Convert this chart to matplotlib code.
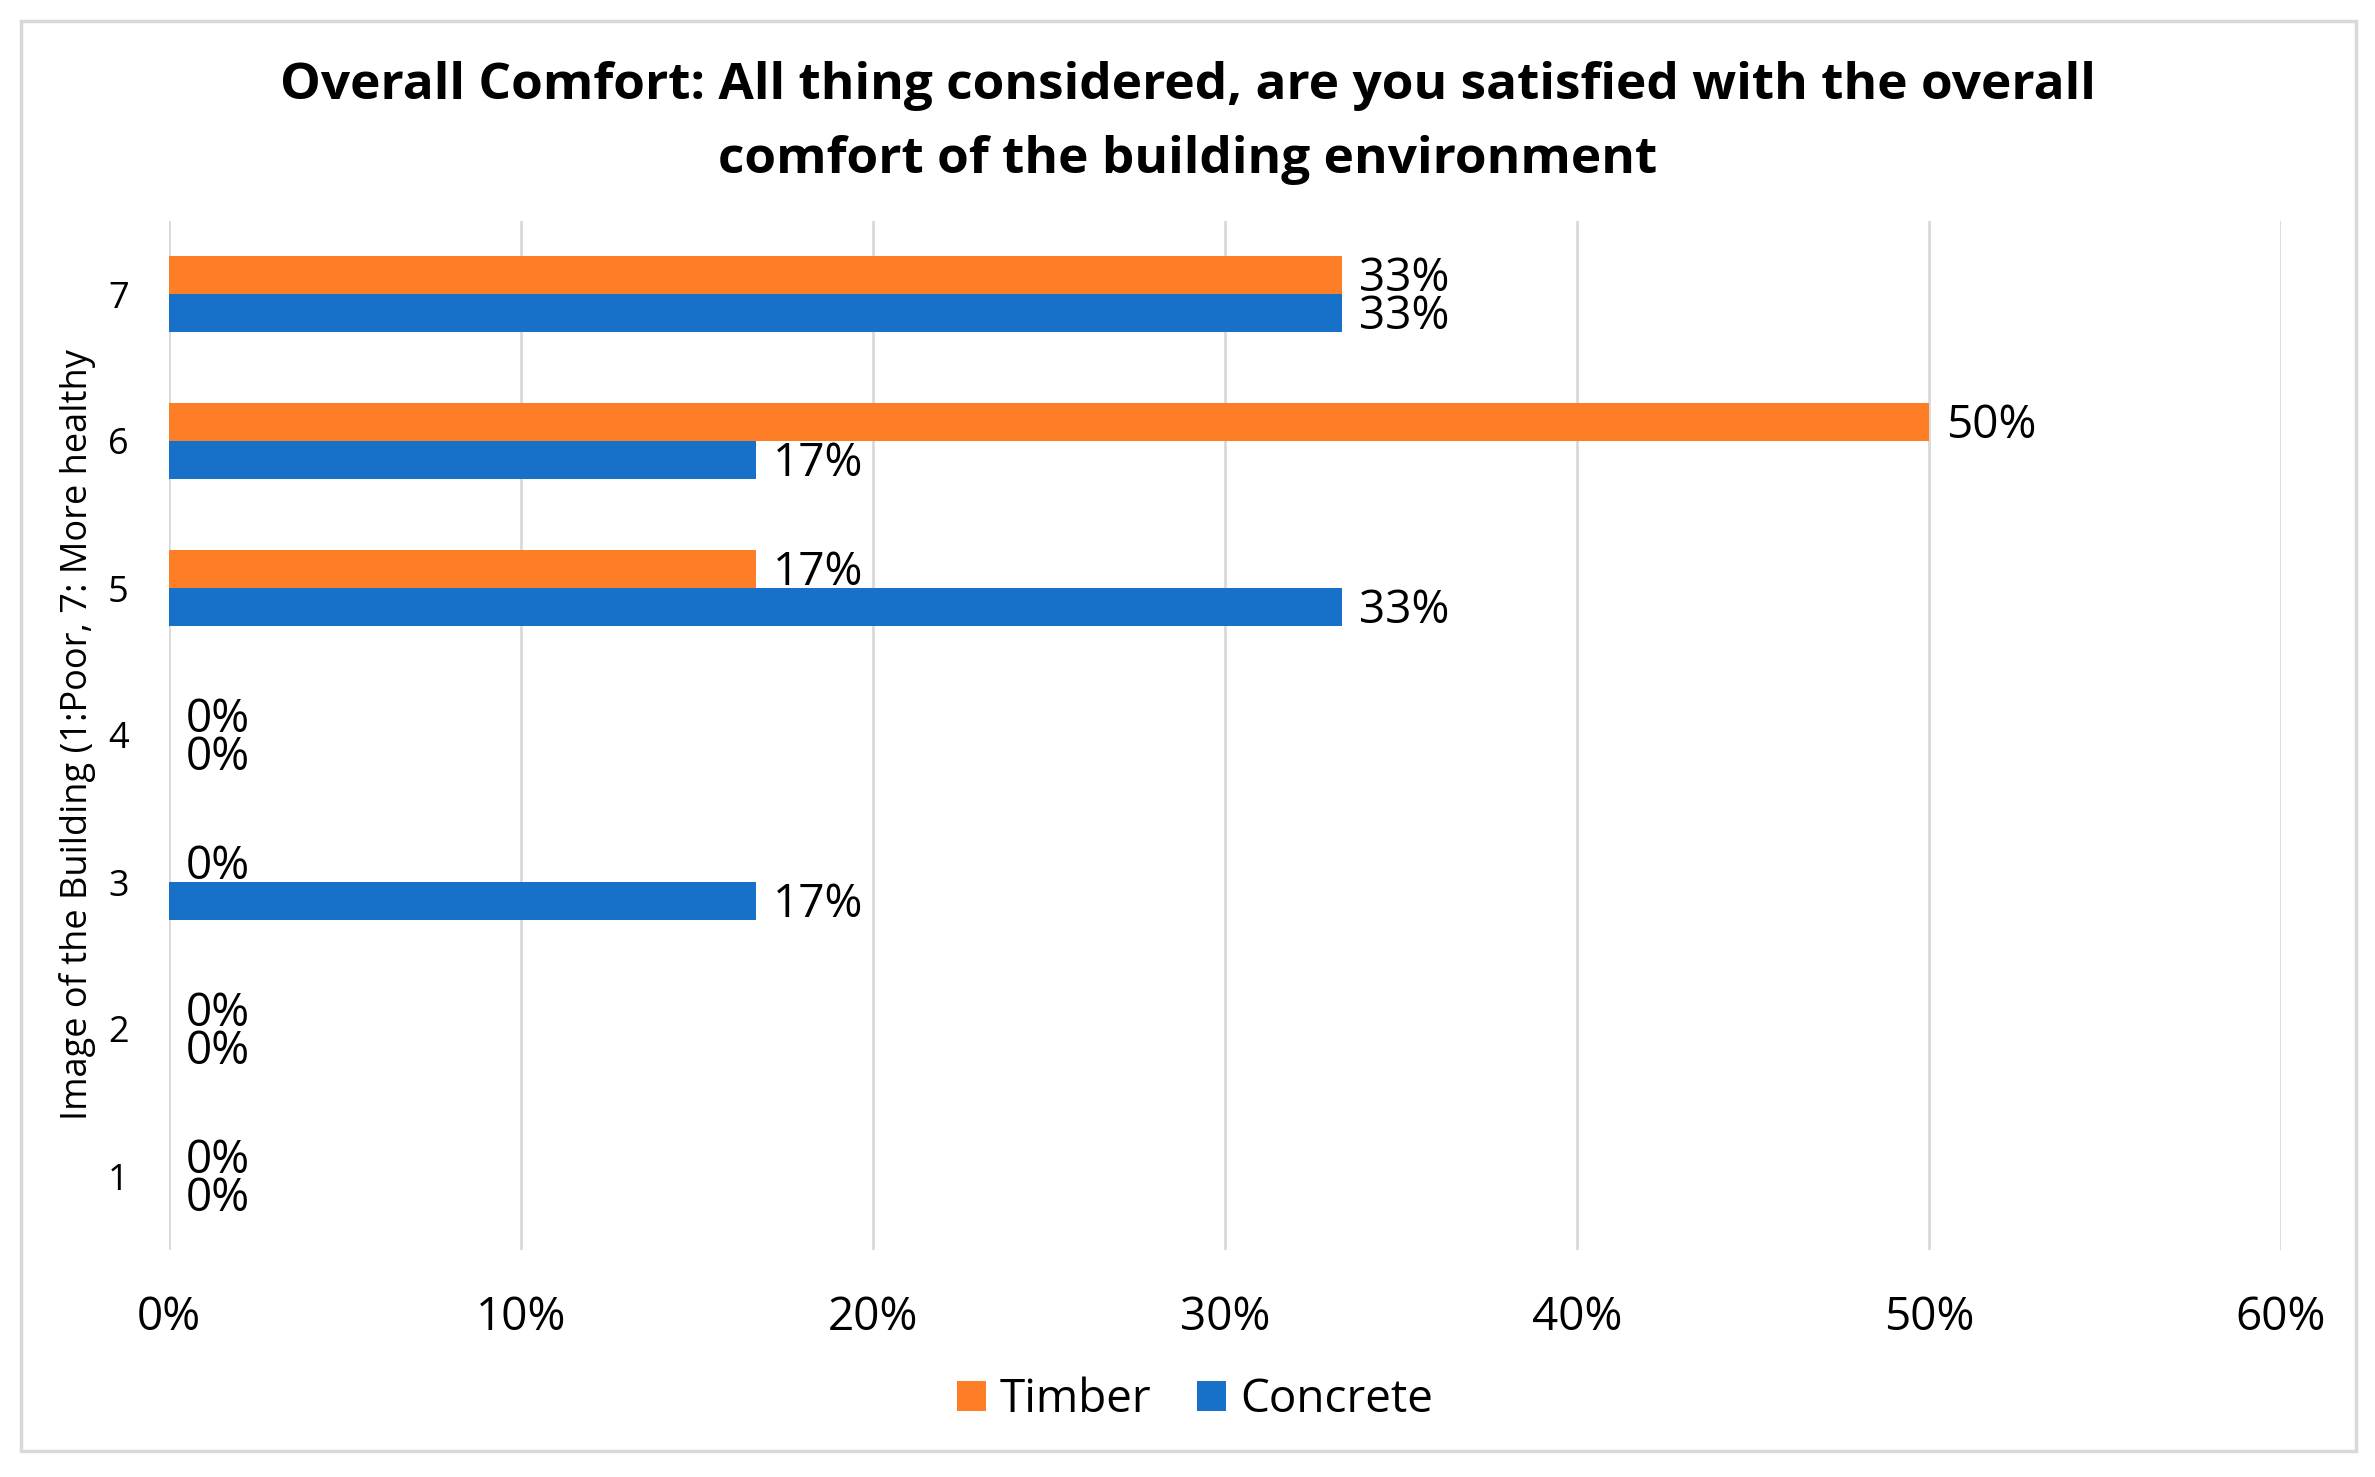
import matplotlib
matplotlib.use("Agg")
import matplotlib.pyplot as plt
from matplotlib.patches import Rectangle
import numpy as np

plt.rcParams['font.family'] = ['Open Sans', 'DejaVu Sans']

categories = [1, 2, 3, 4, 5, 6, 7]
timber = [0, 0, 0, 0, 16.67, 50, 33.33]
concrete = [0, 0, 16.67, 0, 33.33, 16.67, 33.33]
xticks = [0, 10, 20, 30, 40, 50, 60]
xtick_labels = ["0%", "10%", "20%", "30%", "40%", "50%", "60%"]
title_text = ("Overall Comfort: All thing considered, are you satisfied with the overall\n"
              "comfort of the building environment")
ylabel_text = "Image of the Building (1:Poor, 7: More healthy"

W, H = 2375, 1477
fig = plt.figure(figsize=(W / 100, H / 100), dpi=100)
fig.patch.set_facecolor('white')

# outer chart border
fig.patches.append(Rectangle((21 / W, 1 - 1451 / H), (2356 - 21) / W, (1451 - 21) / H,
                             transform=fig.transFigure, fill=False,
                             edgecolor='#d9d9d9', linewidth=2.5))

left, right, top, bottom = 169, 2281, 220.5, 1249.5
ax = fig.add_axes([left / W, 1 - bottom / H, (right - left) / W, (bottom - top) / H])

orange = '#FE7E28'
blue = '#1771C9'
y = np.array(categories, dtype=float)
bh = 0.258
b1 = ax.barh(y + bh / 2, timber, height=bh, color=orange, label='Timber', zorder=3)
b2 = ax.barh(y - bh / 2, concrete, height=bh, color=blue, label='Concrete', zorder=3)

fmt = lambda v: f"{v:.0f}%"
anns = []
anns += ax.bar_label(b1, labels=[fmt(v) for v in timber], padding=12, fontsize=33, color='black')
anns += ax.bar_label(b2, labels=[fmt(v) for v in concrete], padding=12, fontsize=33, color='black')
for a in anns:
    a.xyann = (12, -3)

ax.set_xlim(0, 60)
ax.set_ylim(0.5, 7.5)
ax.set_xticks(xticks)
ax.set_xticklabels(xtick_labels, fontsize=33)
ax.set_yticks(categories)
ax.set_yticklabels([str(c) for c in categories], fontsize=26)
ax.tick_params(axis='x', length=0, pad=33)
ax.tick_params(axis='y', length=0, pad=29)
ax.grid(axis='x', color='#d9d9d9', linewidth=2, zorder=0)
ax.set_axisbelow(True)
for s in ax.spines.values():
    s.set_visible(False)

ax.set_ylabel(ylabel_text, fontsize=26, va='center')
ax.yaxis.set_label_coords((78 - left) / (right - left), 0.5)

fig.text(0.5, 1 - 173 / H, title_text, ha='center', va='baseline',
         fontsize=37, fontweight='bold', linespacing=1.64)

fig.legend(handles=[b1, b2], labels=['Timber', 'Concrete'], loc='center',
           bbox_to_anchor=(1195 / W, 1 - 1400 / H), ncol=2, frameon=False,
           fontsize=33, handlelength=0.63, handleheight=0.63,
           handletextpad=0.3, columnspacing=1.0, borderaxespad=0)

fig.savefig('out.png', dpi=100, facecolor='white')
